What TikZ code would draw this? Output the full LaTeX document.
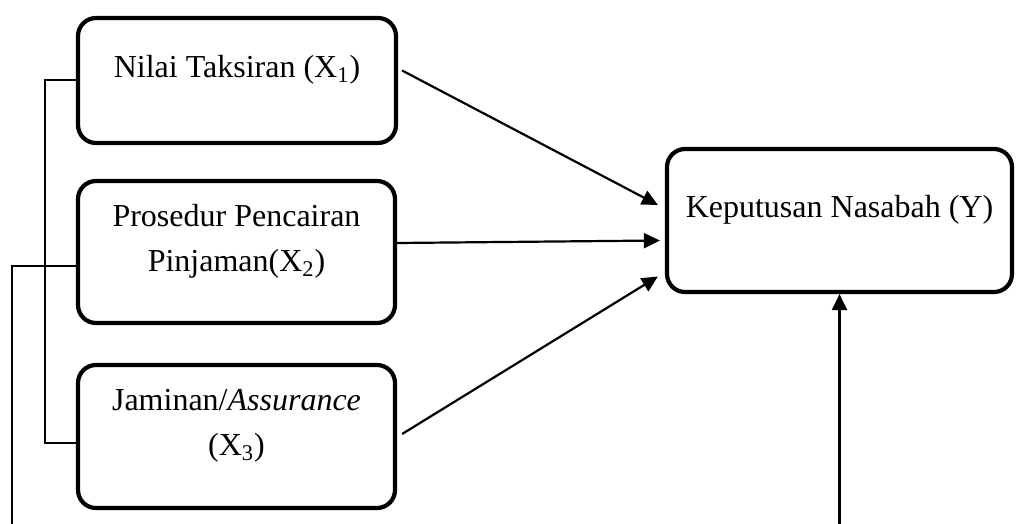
\documentclass[tikz,border=0pt]{standalone}
\usepackage{fontspec}
\setmainfont{Liberation Serif}
\usetikzlibrary{calc}
\usetikzlibrary{arrows.meta}

\begin{document}
\begin{tikzpicture}[x=0.5pt,y=-0.5pt,
  var/.style={draw,line width=2.1pt,rounded corners=9pt,inner sep=0pt},
  txt/.style={align=center,font=\fontsize{16}{22.5}\selectfont,yshift=5.5pt},
  link/.style={line width=1pt},
  arr/.style={line width=1.1pt,-{Triangle[length=8pt,width=7.5pt]}}]
  \useasboundingbox (0,0) rectangle (1017,524);

  \node [var,minimum width=159pt,minimum height=62.5pt,
    label={[txt]center:Nilai Taksiran (X\textsubscript{1})}] (x1) at (237,80.5) {};
  \node [var,minimum width=158.5pt,minimum height=71pt,
    label={[txt]center:{Prosedur Pencairan\\Pinjaman(X\textsubscript{2})}}] (x2) at (236.5,252) {};
  \node [var,minimum width=158.5pt,minimum height=71.5pt,
    label={[txt]center:{Jaminan/\textit{Assurance}\\(X\textsubscript{3})}}] (x3) at (236.5,436.5) {};
  \node [var,minimum width=172.5pt,minimum height=71.5pt,
    label={[txt]center:Keputusan Nasabah (Y)}] (y) at (839.5,220.5) {};

  \coordinate (bot1) at (12,524);
  \coordinate (bot2) at (839.5,524);

  \draw [link] (x1.west) -- ++(-31,0) |- ([yshift=-3.25pt]x3.west);
  \draw [link] ([yshift=-7pt]x2.west) -| (bot1);

  \draw [arr] ([xshift=2pt,yshift=5pt]x1.east) -- ([xshift=-3.5pt,yshift=7.75pt]y.west);
  \draw [arr] ([yshift=4.5pt]x2.east) -- ([xshift=-2.5pt,yshift=-10pt]y.west);
  \draw [arr] ([xshift=2.5pt,yshift=1.25pt]x3.east) -- ([xshift=-3.5pt,yshift=-28pt]y.west);
  \draw [arr] (bot2) -- (y.south);
\end{tikzpicture}
\end{document}
